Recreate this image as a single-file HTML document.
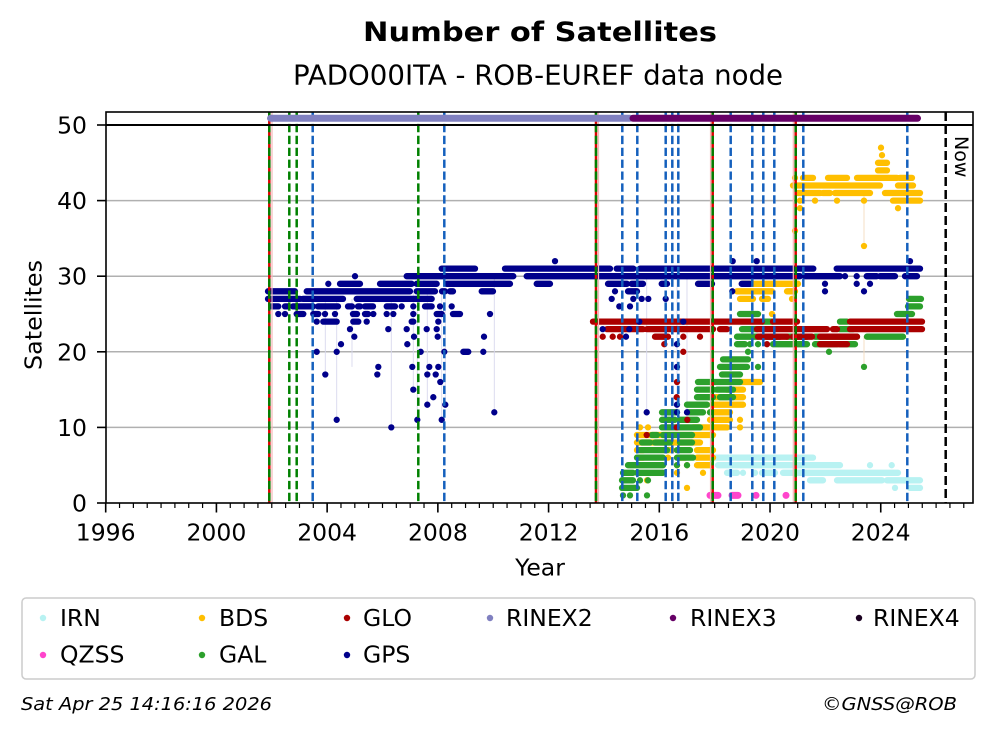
<!DOCTYPE html>
<html><head><meta charset="utf-8"><style>
html,body{margin:0;padding:0;background:#fff;}
svg{display:block;}
text{font-family:"DejaVu Sans","Liberation Sans",sans-serif;fill:#000;}
</style></head><body>
<svg width="992" height="734" viewBox="0 0 992 734" xmlns="http://www.w3.org/2000/svg">
<rect width="992" height="734" fill="#fff"/>
<!-- titles -->
<text x="540" y="41" font-size="27" font-weight="bold" text-anchor="middle" textLength="354" lengthAdjust="spacingAndGlyphs">Number of Satellites</text>
<text x="538" y="84.5" font-size="27.4" text-anchor="middle" textLength="490" lengthAdjust="spacingAndGlyphs">PADO00ITA - ROB-EUREF data node</text>

<!-- grid -->
<g stroke="#b0b0b0" stroke-width="1.5">
<line x1="106" y1="427.4" x2="973" y2="427.4"/>
<line x1="106" y1="351.8" x2="973" y2="351.8"/>
<line x1="106" y1="276.2" x2="973" y2="276.2"/>
<line x1="106" y1="200.6" x2="973" y2="200.6"/>
</g>

<!-- faint connectors -->
<g stroke="#d8d8ee" stroke-width="0.9">
<line x1="336.7" y1="419.8" x2="336.7" y2="299"/>
<line x1="391.3" y1="427.4" x2="391.3" y2="299"/>
<line x1="417.3" y1="419.8" x2="417.3" y2="291"/>
<line x1="441.7" y1="419.8" x2="441.7" y2="291"/>
<line x1="427.3" y1="404.7" x2="427.3" y2="291"/>
<line x1="445.3" y1="404.7" x2="445.3" y2="291"/>
<line x1="413.3" y1="389.6" x2="413.3" y2="291"/>
<line x1="494.3" y1="412.3" x2="494.3" y2="276"/>
<line x1="325.3" y1="374.5" x2="325.3" y2="299"/>
<line x1="352" y1="366.9" x2="352" y2="299"/>
<line x1="646.7" y1="412.3" x2="646.7" y2="276"/>
<line x1="677" y1="412.3" x2="677" y2="276"/>
<line x1="687" y1="412.3" x2="687" y2="276"/>
</g>
<g stroke="#f3dcc0" stroke-width="0.9">
<line x1="864" y1="246" x2="864" y2="193"/>
<line x1="864" y1="366.9" x2="864" y2="336"/>
</g>

<!-- data -->
<g fill="none" stroke-linecap="round" stroke-width="6.3">
<!-- IRN -->
<path stroke="#b8f2f2" d="M713 457.6H813 M718 465.2H840 M870 465.2h0.01 M891.7 465.2h0.01 M727 472.8H737 M743 472.8h0.01 M755 472.8h0.01 M762 472.8H775 M783 472.8H898 M810 480.3H823 M837 480.3H882 M887 480.3H920 M895 487.9h0.01 M910 487.9H920"/>
<!-- QZSS -->
<path stroke="#ff44cc" stroke-width="7" d="M710 495.4H718 M732 495.4H738 M756 495.4h0.01 M786 495.4h0.01"/>
<!-- BDS -->
<path stroke="#ffbf00" d="M687 487.9h0.01 M647 480.3h0.01 M677 472.8h0.01 M703 472.8h0.01 M677 465.2h0.01 M687 465.2h0.01 M697 465.2H710 M638 457.6H643 M668 457.6h0.01 M680 457.6H685 M697 457.6H713 M637 450.1H643 M668 450.1H672 M697 450.1H713 M637 442.5H700 M637 435H713 M640 427.4h0.01 M648 427.4h0.01 M693 427.4H727 M740 427.4h0.01 M710 419.8H730 M740 419.8h0.01 M710 412.3H730 M712 404.7H743 M715 397.2H727 M730 397.2H743 M727 389.6H743 M733 382H760 M772 314h0.01 M740 298.9H753 M762 298.9H768 M792 298.9h0.01 M737 291.3H772 M787 291.3H795 M743 283.8H798 M864 246h0.01 M795 230.8h0.01 M800 208.2h0.01 M898 208.2h0.01 M800 200.6h0.01 M815 200.6h0.01 M837 200.6h0.01 M864 200.6h0.01 M893 200.6H905 M910 200.6H920 M798 193H820 M823 193H830 M835 193H870 M885 193H920 M793 185.5H880 M898 185.5H913 M795 177.9h0.01 M803 177.9H813 M828 177.9H847 M857 177.9H897 M900 177.9H912 M878 170.4H887 M878 162.8H887 M882 155.2h0.01 M881 147.7h0.01"/>
<!-- GAL -->
<path stroke="#2ca02c" d="M623 495.4h0.01 M630 495.4h0.01 M647 495.4h0.01 M622 487.9H637 M622 480.3H633 M640 480.3h0.01 M648 480.3h0.01 M623 472.8H633 M637 472.8H663 M628 465.2H663 M677 465.2h0.01 M687 465.2h0.01 M637 457.6H663 M677 457.6H693 M640 450.1H667 M677 450.1H690 M642 442.5H650 M655 442.5H670 M680 442.5H692 M652 435H657 M663 435H692 M662 427.4H700 M662 419.8H675 M680 419.8H697 M662 412.3H677 M688 412.3H703 M710 412.3h0.01 M687 404.7H707 M697 397.2H713 M720 397.2H733 M697 389.6H713 M717 389.6H733 M698 382H740 M722 374.5H740 M720 366.9H747 M758 366.9h0.01 M864 366.9h0.01 M723 359.4H748 M748 351.8h0.01 M829 351.8h0.01 M737 344.2H745 M750 344.2h0.01 M758 344.2h0.01 M773 344.2H807 M815 344.2H837 M840 344.2H855 M737 336.7H757 M767 336.7H780 M787 336.7H807 M815 336.7H857 M867 336.7H903 M742 329.1H757 M840 329.1H853 M763 321.6H772 M840 321.6H847 M740 314H758 M897 314H912 M908 306.4H920 M909 298.9H921"/>
<!-- GLO -->
<path stroke="#aa0000" d="M593 321.6H762 M773 321.6H797 M850 321.6H922 M607 329.1H643 M647 329.1H713 M720 329.1H727 M757 329.1H827 M833 329.1H837 M850 329.1H922 M602.7 336.7h0.01 M612.7 336.7h0.01 M620 336.7h0.01 M655 336.7H668 M683.3 336.7h0.01 M700 336.7h0.01 M758 336.7H787 M793 336.7H812 M820 336.7H857 M664.3 344.2h0.01 M767 344.2h0.01 M820 344.2H847 M683.3 351.8h0.01 M677 382h0.01 M676.7 397.2h0.01 M687.3 419.8h0.01 M676.7 427.4h0.01 M646.7 435h0.01"/>
<!-- GPS -->
<path stroke="#00008b" d="M441.7 268.6H475 M505 268.6H610 M616.7 268.6H633.3 M640 268.6H813.3 M836.7 268.6H920 M555 261.1h0.01 M732.7 261.1h0.01 M756.7 261.1h0.01 M910 261.1h0.01 M355 276.2h0.01 M406.7 276.2H513.3 M526.7 276.2H800 M805 276.2H840 M845 276.2h0.01 M856.7 276.2h0.01 M866.7 276.2H876.7 M880 276.2H895 M905 276.2H917 M328.3 283.8h0.01 M340 283.8H360 M380 283.8H411.7 M416.7 283.8H436.7 M446.7 283.8H510 M536.7 283.8H550 M608 283.8H627 M631.7 283.8H643 M661.7 283.8H667 M698 283.8H712 M741.7 283.8H750 M825 283.8h0.01 M856.7 283.8h0.01 M870 283.8h0.01 M268 291.3H295 M306.7 291.3H410 M416.7 291.3H435 M442 291.3H445 M450 291.3H453 M481.7 291.3H493 M615 291.3h0.01 M628 291.3H637 M732.3 291.3h0.01 M825 291.3h0.01 M864 291.3h0.01 M268 298.9H300 M303 298.9H343 M356.7 298.9H431.7 M611.7 298.9h0.01 M633.3 298.9h0.01 M641.7 298.9h0.01 M648.3 298.9h0.01 M665.7 298.9h0.01 M271.7 306.4H278.3 M285 306.4H288 M293 306.4H313 M318 306.4H338 M348 306.4H352 M358 306.4H360 M365 306.4H373 M386.7 306.4H395 M401.7 306.4h0.01 M413.3 306.4h0.01 M425 306.4H431.7 M440 306.4h0.01 M451.7 306.4h0.01 M619.3 306.4h0.01 M630 306.4h0.01 M278.3 314h0.01 M285 314h0.01 M296.7 314H303.3 M313.3 314H318.3 M325 314h0.01 M335 314h0.01 M353 314H357 M365 314H368 M373.3 314h0.01 M386.7 314h0.01 M393.3 314h0.01 M413.3 314h0.01 M436.7 314H441.7 M453 314H460 M490 314h0.01 M316.7 321.6h0.01 M323.3 321.6H336.7 M353.3 321.6H358.3 M366.7 321.6h0.01 M411.7 321.6H413.3 M438.3 321.6h0.01 M639.3 321.6h0.01 M683.3 321.6h0.01 M350 329.1h0.01 M388.3 329.1h0.01 M406.7 329.1h0.01 M426.7 329.1h0.01 M436.7 329.1h0.01 M602.7 329.1h0.01 M629.3 329.1h0.01 M354.3 336.7h0.01 M414 336.7h0.01 M437.7 336.7h0.01 M484 336.7h0.01 M626 336.7h0.01 M341 344.2h0.01 M407.3 344.2h0.01 M677 344.2h0.01 M316.7 351.8h0.01 M336.7 351.8h0.01 M420.7 351.8h0.01 M444.3 351.8h0.01 M463.3 351.8H468.3 M483.3 351.8h0.01 M378.3 366.9h0.01 M412.3 366.9h0.01 M429.3 366.9h0.01 M438.3 366.9h0.01 M677 366.9h0.01 M325.3 374.5h0.01 M377.3 374.5h0.01 M427.3 374.5h0.01 M435.7 374.5h0.01 M440.3 382h0.01 M413.3 389.6h0.01 M433.3 397.2h0.01 M427.3 404.7h0.01 M445.3 404.7h0.01 M677 404.7h0.01 M494.3 412.3h0.01 M646.7 412.3h0.01 M677 412.3h0.01 M687 412.3h0.01 M336.7 419.8h0.01 M417.3 419.8h0.01 M441.7 419.8h0.01 M391.3 427.4h0.01"/>
</g>

<!-- vertical event lines -->
<g stroke-width="2.5" fill="none">
<g stroke="#e00000">
<line x1="269.3" y1="112" x2="269.3" y2="503"/>
<line x1="596" y1="112" x2="596" y2="503"/>
<line x1="712.7" y1="112" x2="712.7" y2="503"/>
<line x1="795.7" y1="112" x2="795.7" y2="503"/>
</g>
<g stroke="#f4b8b8" stroke-width="1.2">
<line x1="272" y1="112" x2="272" y2="503"/>
<line x1="598.5" y1="112" x2="598.5" y2="503"/>
<line x1="710.5" y1="112" x2="710.5" y2="503"/>
<line x1="793.3" y1="112" x2="793.3" y2="503"/>
</g>
<g stroke="#008000" stroke-dasharray="8.3 3.6">
<line x1="269.3" y1="112" x2="269.3" y2="503"/>
<line x1="596" y1="112" x2="596" y2="503"/>
<line x1="712.7" y1="112" x2="712.7" y2="503"/>
<line x1="795.7" y1="112" x2="795.7" y2="503"/>
<line x1="289.3" y1="112" x2="289.3" y2="503"/>
<line x1="296.7" y1="112" x2="296.7" y2="503"/>
<line x1="418.3" y1="112" x2="418.3" y2="503"/>
</g>
<g stroke="#1560bd" stroke-dasharray="8.3 3.6">
<line x1="312.7" y1="112" x2="312.7" y2="503"/>
<line x1="444.3" y1="112" x2="444.3" y2="503"/>
<line x1="622.3" y1="112" x2="622.3" y2="503"/>
<line x1="637.3" y1="112" x2="637.3" y2="503"/>
<line x1="665.7" y1="112" x2="665.7" y2="503"/>
<line x1="672.3" y1="112" x2="672.3" y2="503"/>
<line x1="678.3" y1="112" x2="678.3" y2="503"/>
<line x1="730.7" y1="112" x2="730.7" y2="503"/>
<line x1="752.3" y1="112" x2="752.3" y2="503"/>
<line x1="763.3" y1="112" x2="763.3" y2="503"/>
<line x1="774.3" y1="112" x2="774.3" y2="503"/>
<line x1="803.3" y1="112" x2="803.3" y2="503"/>
<line x1="907.3" y1="112" x2="907.3" y2="503"/>
</g>
<line x1="945.7" y1="112" x2="945.7" y2="503" stroke="#000" stroke-dasharray="9 4"/>
</g>

<!-- RINEX bars -->
<g stroke-linecap="round" stroke-width="7" fill="none">
<line x1="270.5" y1="118.3" x2="630" y2="118.3" stroke="#8080c0"/>
<line x1="633" y1="118.3" x2="917.5" y2="118.3" stroke="#660066"/>
</g>

<!-- value 50 line -->
<line x1="106" y1="125" x2="973" y2="125" stroke="#000" stroke-width="2"/>

<!-- Now label -->
<text transform="translate(955,136) rotate(90)" font-size="19">Now</text>

<!-- frame -->
<rect x="106" y="112" width="867" height="391" fill="none" stroke="#000" stroke-width="1.6"/>

<!-- y ticks -->
<g stroke="#000" stroke-width="1.6">
<line x1="97" y1="125" x2="106" y2="125"/>
<line x1="97" y1="200.6" x2="106" y2="200.6"/>
<line x1="97" y1="276.2" x2="106" y2="276.2"/>
<line x1="97" y1="351.8" x2="106" y2="351.8"/>
<line x1="97" y1="427.4" x2="106" y2="427.4"/>
<line x1="97" y1="503" x2="106" y2="503"/>
</g>
<g font-size="23.5" text-anchor="end">
<text x="87" y="133.5">50</text>
<text x="87" y="209.1">40</text>
<text x="87" y="284.7">30</text>
<text x="87" y="360.3">20</text>
<text x="87" y="435.9">10</text>
<text x="87" y="511.5">0</text>
</g>
<text transform="translate(41.5,315) rotate(-90)" font-size="23.5" text-anchor="middle" textLength="110" lengthAdjust="spacingAndGlyphs">Satellites</text>

<!-- x ticks -->
<g stroke="#000" stroke-width="1.6">
<path d="M105.7 503v9.5 M216.42 503v9.5 M327.14 503v9.5 M437.86 503v9.5 M548.58 503v9.5 M659.3 503v9.5 M770.02 503v9.5 M880.74 503v9.5"/>
</g>
<g stroke="#000" stroke-width="1.2">
<path d="M119.54 503v5 M133.38 503v5 M147.22 503v5 M161.06 503v5 M174.9 503v5 M188.74 503v5 M202.58 503v5 M230.26 503v5 M244.1 503v5 M257.94 503v5 M271.78 503v5 M285.62 503v5 M299.46 503v5 M313.3 503v5 M340.98 503v5 M354.82 503v5 M368.66 503v5 M382.5 503v5 M396.34 503v5 M410.18 503v5 M424.02 503v5 M451.7 503v5 M465.54 503v5 M479.38 503v5 M493.22 503v5 M507.06 503v5 M520.9 503v5 M534.74 503v5 M562.42 503v5 M576.26 503v5 M590.1 503v5 M603.94 503v5 M617.78 503v5 M631.62 503v5 M645.46 503v5 M673.14 503v5 M686.98 503v5 M700.82 503v5 M714.66 503v5 M728.5 503v5 M742.34 503v5 M756.18 503v5 M783.86 503v5 M797.7 503v5 M811.54 503v5 M825.38 503v5 M839.22 503v5 M853.06 503v5 M866.9 503v5 M894.58 503v5 M908.42 503v5 M922.26 503v5 M936.1 503v5 M949.94 503v5 M963.78 503v5"/>
</g>
<g font-size="23.5" text-anchor="middle">
<text x="105.7" y="540.5">1996</text>
<text x="216.4" y="540.5">2000</text>
<text x="327.1" y="540.5">2004</text>
<text x="437.9" y="540.5">2008</text>
<text x="548.6" y="540.5">2012</text>
<text x="659.3" y="540.5">2016</text>
<text x="770" y="540.5">2020</text>
<text x="880.7" y="540.5">2024</text>
</g>
<text x="540" y="575.5" font-size="23.5" text-anchor="middle">Year</text>

<!-- legend -->
<rect x="22" y="598" width="953" height="81" rx="4" ry="4" fill="#fff" stroke="#cccccc" stroke-width="1.5"/>
<g>
<circle cx="43" cy="618" r="3.2" fill="#b8f2f2"/>
<circle cx="202" cy="618" r="3.2" fill="#ffbf00"/>
<circle cx="347" cy="618" r="3.2" fill="#aa0000"/>
<circle cx="490" cy="618" r="3.2" fill="#8080c0"/>
<circle cx="673" cy="618" r="3.2" fill="#660066"/>
<circle cx="859" cy="618" r="3.2" fill="#1a0020"/>
<circle cx="43" cy="655" r="3.2" fill="#ff44cc"/>
<circle cx="202" cy="655" r="3.2" fill="#2ca02c"/>
<circle cx="347" cy="655" r="3.2" fill="#00008b"/>
</g>
<g font-size="23.5">
<text x="60" y="626">IRN</text>
<text x="219" y="626">BDS</text>
<text x="363" y="626">GLO</text>
<text x="506" y="626">RINEX2</text>
<text x="690" y="626">RINEX3</text>
<text x="873" y="626">RINEX4</text>
<text x="60" y="662.7">QZSS</text>
<text x="219" y="662.7">GAL</text>
<text x="363" y="662.7">GPS</text>
</g>

<!-- footer -->
<text x="21" y="710" font-size="18" font-style="italic" textLength="251" lengthAdjust="spacingAndGlyphs">Sat Apr 25 14:16:16 2026</text>
<text x="822" y="710" font-size="18" font-style="italic" textLength="135" lengthAdjust="spacingAndGlyphs">©GNSS@ROB</text>
</svg>
</body></html>
